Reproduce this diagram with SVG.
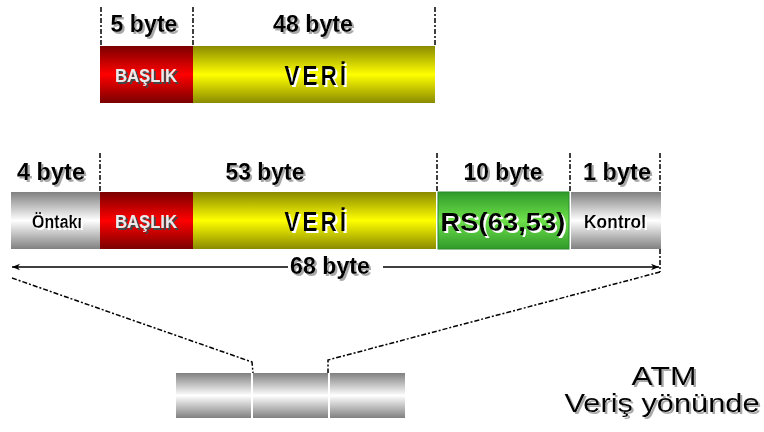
<svg xmlns="http://www.w3.org/2000/svg" width="764" height="432" viewBox="0 0 764 432">
<defs>
<linearGradient id="gRed" x1="0" y1="0" x2="0" y2="1"><stop offset="0" stop-color="#7a0000"/><stop offset="0.5" stop-color="#ff0000"/><stop offset="1" stop-color="#7a0000"/></linearGradient>
<linearGradient id="gYel" x1="0" y1="0" x2="0" y2="1"><stop offset="0" stop-color="#8a8a00"/><stop offset="0.5" stop-color="#ffff00"/><stop offset="1" stop-color="#8a8a00"/></linearGradient>
<linearGradient id="gGry" x1="0" y1="0" x2="0" y2="1"><stop offset="0" stop-color="#808080"/><stop offset="0.5" stop-color="#ffffff"/><stop offset="1" stop-color="#808080"/></linearGradient>
<linearGradient id="gGrn" x1="0" y1="0" x2="0" y2="1"><stop offset="0" stop-color="#2f9a2a"/><stop offset="0.5" stop-color="#6ee04a"/><stop offset="1" stop-color="#2f9a2a"/></linearGradient>
<filter id="shG" x="-10%" y="-20%" width="130%" height="150%"><feDropShadow dx="2" dy="2" stdDeviation="0" flood-color="#a8a8a8"/></filter>
<filter id="shD" x="-10%" y="-20%" width="130%" height="150%"><feDropShadow dx="2" dy="2" stdDeviation="0" flood-color="#444"/></filter>
<filter id="shW" x="-10%" y="-20%" width="130%" height="150%"><feDropShadow dx="2" dy="2" stdDeviation="0" flood-color="#fff"/></filter>
<marker id="arr" viewBox="0 0 10 10" refX="10" refY="5" markerWidth="8" markerHeight="8" orient="auto-start-reverse" markerUnits="userSpaceOnUse"><path d="M0,1 L10,5 L0,9 L3,5 z" fill="#000"/></marker>
</defs>
<style>
text{font-family:"Liberation Sans",Arial,sans-serif;font-weight:bold;text-anchor:middle}
.lbl{font-size:23px;fill:#000;filter:url(#shG)}
.dash{stroke:#000;stroke-width:1.5;stroke-dasharray:5,2,2,2;fill:none}
.hd{font-size:18px;fill:#eaeaea;filter:url(#shD)}
.veri{font-size:28px;fill:#000;letter-spacing:4px;filter:url(#shW)}
.small{font-size:18px;fill:#000;filter:url(#shW)}
.big{font-size:26px;fill:#000;filter:url(#shW)}
.atm{font-size:25px;font-weight:normal;fill:#000;filter:url(#shG)}
</style>
<g id="top-row">
<g id="top-dims">
<line class="dash" x1="101" y1="7" x2="101" y2="46"/>
<line class="dash" x1="193" y1="7" x2="193" y2="46"/>
<line class="dash" x1="435" y1="7" x2="435" y2="46"/>
<text class="lbl" x="144" y="32" textLength="67" lengthAdjust="spacingAndGlyphs">5 byte</text>
<text class="lbl" x="313" y="32" textLength="80" lengthAdjust="spacingAndGlyphs">48 byte</text>
</g>
<g id="top-baslik"><rect x="100" y="46" width="93" height="57" fill="url(#gRed)"/>
<text class="hd" x="146" y="82" textLength="62" lengthAdjust="spacingAndGlyphs">BAŞLIK</text></g>
<g id="top-veri"><rect x="193" y="46" width="242" height="57" fill="url(#gYel)"/>
<text class="veri" x="317" y="85" textLength="65" lengthAdjust="spacingAndGlyphs">VERİ</text></g>
</g>
<g id="second-row">
<g id="dims">
<line class="dash" x1="100" y1="153" x2="100" y2="192"/>
<line class="dash" x1="437" y1="153" x2="437" y2="192"/>
<line class="dash" x1="570" y1="153" x2="570" y2="192"/>
<line class="dash" x1="660" y1="153" x2="660" y2="192"/>
<text class="lbl" x="51" y="180" textLength="68" lengthAdjust="spacingAndGlyphs">4 byte</text>
<text class="lbl" x="265" y="180" textLength="79" lengthAdjust="spacingAndGlyphs">53 byte</text>
<text class="lbl" x="503" y="180" textLength="79" lengthAdjust="spacingAndGlyphs">10 byte</text>
<text class="lbl" x="617" y="180" textLength="68" lengthAdjust="spacingAndGlyphs">1 byte</text>
</g>
<g id="ontaki"><rect x="11" y="192" width="89" height="57" fill="url(#gGry)"/>
<text class="small" x="57" y="228" textLength="50" lengthAdjust="spacingAndGlyphs">Öntakı</text></g>
<g id="baslik"><rect x="100" y="192" width="93" height="57" fill="url(#gRed)"/>
<text class="hd" x="146" y="228" textLength="62" lengthAdjust="spacingAndGlyphs">BAŞLIK</text></g>
<g id="veri"><rect x="193" y="192" width="243" height="57" fill="url(#gYel)"/>
<text class="veri" x="317" y="231" textLength="65" lengthAdjust="spacingAndGlyphs">VERİ</text></g>
<g id="rs"><rect x="438" y="192" width="131" height="57" fill="url(#gGrn)" stroke="#2a8a2a" stroke-width="1"/>
<text class="big" x="503" y="231" textLength="125" lengthAdjust="spacingAndGlyphs">RS(63,53)</text></g>
<g id="kontrol"><rect x="571" y="192" width="90" height="57" fill="url(#gGry)"/>
<text class="small" x="615" y="228" textLength="62" lengthAdjust="spacingAndGlyphs">Kontrol</text></g>
</g>
<g id="connectors">
<line x1="288" y1="267" x2="12" y2="267" stroke="#000" stroke-width="1.5" marker-end="url(#arr)"/>
<line x1="383" y1="267" x2="659" y2="267" stroke="#000" stroke-width="1.5" marker-end="url(#arr)"/>
<line class="dash" x1="660" y1="249" x2="660" y2="272"/>
<polyline class="dash" points="12,278 252,362 253,373"/>
<polyline class="dash" points="660,272 328,360 328,373"/>
</g>
<g id="total-label"><text class="lbl" x="330" y="274" textLength="80" lengthAdjust="spacingAndGlyphs">68 byte</text></g>
<g id="cells">
<rect x="176" y="373" width="75" height="45" fill="url(#gGry)"/>
<rect x="253" y="373" width="75" height="45" fill="url(#gGry)"/>
<rect x="330" y="373" width="75" height="45" fill="url(#gGry)"/>
</g>
<g id="caption">
<text class="atm" x="664" y="385" textLength="65" lengthAdjust="spacingAndGlyphs">ATM</text>
<text class="atm" x="662" y="412" textLength="195" lengthAdjust="spacingAndGlyphs">Veriş yönünde</text>
</g>
</svg>
